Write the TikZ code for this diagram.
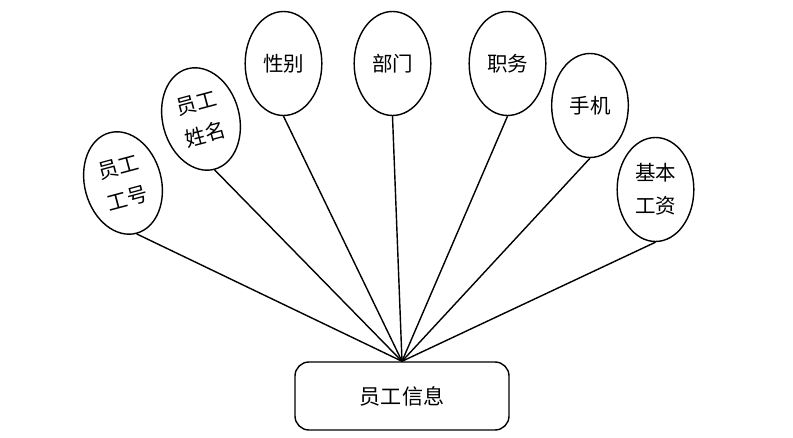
\documentclass[tikz,border=0pt]{standalone}
\usepackage{fontspec}
\usepackage{tikz}
\usetikzlibrary{shapes.geometric}
\newfontfamily\cjk{Noto Sans CJK SC}
\tikzstyle{attr} = [ellipse, minimum width=2.3cm, minimum height=3.12cm, inner sep=1pt,
                    align=center, draw=black, fill=white, line width=1.2pt,
                    font=\cjk\fontsize{17.5}{28}\selectfont]
\tikzstyle{entity} = [rectangle, rounded corners=0.42cm, minimum width=6.42cm,
                      minimum height=2.04cm, draw=black, fill=white, line width=1.2pt,
                      font=\cjk\fontsize{18}{22}\selectfont]
\tikzstyle{link} = [line width=1.2pt]

\begin{document}
\begin{tikzpicture}
    \useasboundingbox (0,0) rectangle (23.79,13.14);
    \node[entity] (info) at (12.06,1.26) {员工信息};

    \node[attr, rotate=15] (gonghao) at (3.69,7.65) {员工\\工号};
    \node[attr, rotate=15] (xingming) at (6.03,9.57) {员工\\姓名};
    \node[attr] (xingbie) at (8.505,11.235) {性别};
    \node[attr] (bumen) at (11.775,11.235) {部门};
    \node[attr] (zhiwu) at (15.225,11.235) {职务};
    \node[attr] (shouji) at (17.7,9.975) {手机};
    \node[attr] (gongzi) at (19.665,7.455) {基本\\工资};

    \draw[link] (gonghao.south) -- (info.north);
    \draw[link] (xingming.south) -- (info.north);
    \draw[link] (xingbie.south) -- (info.north);
    \draw[link] (bumen.south) -- (info.north);
    \draw[link] (zhiwu.south) -- (info.north);
    \draw[link] (shouji.south) -- (info.north);
    \draw[link] (gongzi.south) -- (info.north);
\end{tikzpicture}
\end{document}
